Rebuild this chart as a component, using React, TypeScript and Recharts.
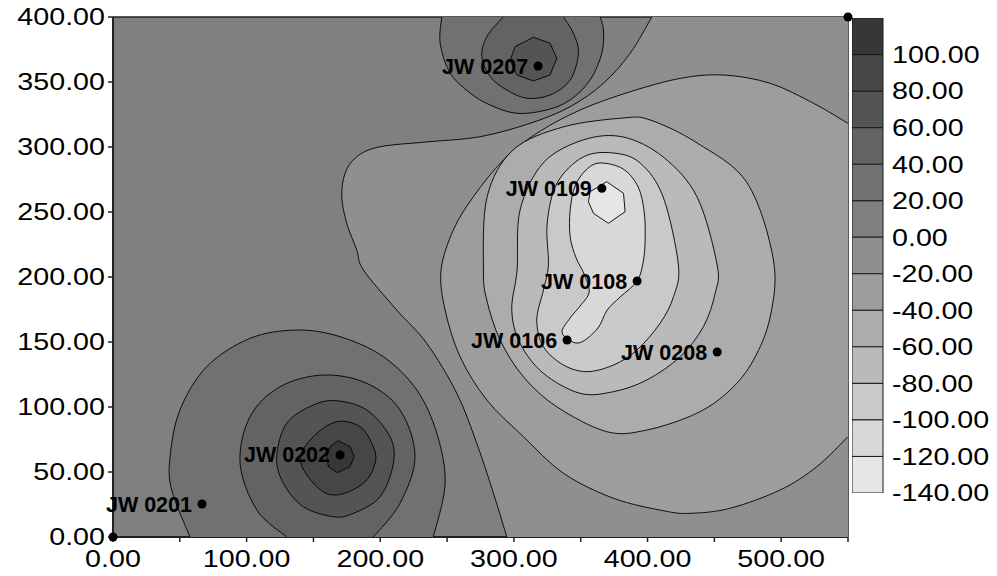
import React from 'react';
import { ComposedChart, BarChart, Bar, Scatter, XAxis, YAxis, CartesianGrid } from 'recharts';

type Pt = { x: number; y: number };

// Contour levels of the colour scale (each box covers [level, level + 20]), top box first
const levels = [100, 80, 60, 40, 20, 0, -20, -40, -60, -80, -100, -120, -140];
const levelGrays = ['#373737', '#464646', '#545454', '#636363', '#717171', '#808080', '#8f8f8f',
  '#9d9d9d', '#acacac', '#bababa', '#c9c9c9', '#d8d8d8', '#e6e6e6'];
const levelStep = 20;
const bandColor = (level: number) => levelGrays[levels.indexOf(level)];

// Colour-scale boxes stacked away from zero: upward for positive levels, downward for negative
const scaleOrder = [0, 20, 40, 60, 80, 100, -20, -40, -60, -80, -100, -120, -140];
const scaleRow: Record<string, number | string> = { name: 'scale' };
scaleOrder.forEach((lv) => {
  scaleRow[`b${lv}`] = lv >= 0 ? levelStep : -levelStep;
});
const scaleData = [scaleRow];

// Axis ticks
const xTicks = [0, 50, 100, 150, 200, 250, 300, 350, 400, 450, 500, 550];
const xLabelled = [0, 100, 200, 300, 400, 500];
const yTicks = [0, 50, 100, 150, 200, 250, 300, 350, 400];

// Mound around JW 0207 (north edge)
const north20: Pt[] = [
  { x: 246.0, y: 400 }, { x: 244.8, y: 379.8 }, { x: 252.2, y: 356.9 }, { x: 267.2, y: 341.5 },
  { x: 282.2, y: 332.3 }, { x: 302.2, y: 325.9 }, { x: 324.6, y: 328.5 }, { x: 342.1, y: 336.2 },
  { x: 357.0, y: 351.5 }, { x: 365.8, y: 372.1 }, { x: 367.0, y: 390.0 }, { x: 364.5, y: 400 },
];
const north40: Pt[] = [
  { x: 291.9, y: 400 }, { x: 279.7, y: 384.8 }, { x: 276.0, y: 369.5 }, { x: 282.2, y: 354.1 },
  { x: 294.7, y: 343.8 }, { x: 309.7, y: 337.5 }, { x: 327.1, y: 340.0 }, { x: 342.1, y: 351.5 },
  { x: 348.3, y: 372.1 }, { x: 344.5, y: 387.5 }, { x: 337.1, y: 400 },
];
const north60: Pt[] = [
  { x: 300.9, y: 377.2 }, { x: 314.6, y: 384.4 }, { x: 327.1, y: 379.8 }, { x: 332.1, y: 368.2 },
  { x: 327.1, y: 355.4 }, { x: 314.6, y: 350.8 }, { x: 302.2, y: 355.4 }, { x: 297.2, y: 366.9 },
];

// Depression around JW 0109 / JW 0108 / JW 0106
const pit0: Pt[] = [
  { x: 403.2, y: 400 }, { x: 387.0, y: 372.1 }, { x: 367.0, y: 349.0 }, { x: 342.1, y: 331.0 },
  { x: 312.1, y: 318.2 }, { x: 274.7, y: 307.9 }, { x: 237.3, y: 304.1 }, { x: 199.9, y: 300.2 },
  { x: 182.4, y: 292.5 }, { x: 173.7, y: 279.8 }, { x: 171.2, y: 261.8 }, { x: 174.9, y: 241.3 },
  { x: 182.4, y: 220.8 }, { x: 187.4, y: 205.4 }, { x: 212.3, y: 174.6 }, { x: 234.8, y: 149.0 },
  { x: 257.3, y: 110.5 }, { x: 272.2, y: 72.1 }, { x: 284.7, y: 33.6 }, { x: 294.7, y: 0 },
];
const pit0Corners: Pt[] = [{ x: 550, y: 0 }, { x: 550, y: 400 }];
const pit20: Pt[] = [
  { x: 550, y: 318.2 }, { x: 524.2, y: 333.6 }, { x: 491.8, y: 349.0 }, { x: 456.8, y: 355.4 },
  { x: 424.4, y: 352.8 }, { x: 387.0, y: 342.5 }, { x: 349.6, y: 328.5 }, { x: 317.1, y: 310.5 },
  { x: 292.1, y: 290.0 }, { x: 269.7, y: 261.8 }, { x: 254.7, y: 236.2 }, { x: 245.5, y: 205.4 },
  { x: 248.5, y: 174.6 }, { x: 259.7, y: 138.7 }, { x: 279.7, y: 105.4 }, { x: 307.1, y: 77.2 },
  { x: 337.1, y: 49.0 }, { x: 374.5, y: 29.8 }, { x: 411.9, y: 20.2 }, { x: 431.9, y: 18.2 },
  { x: 461.8, y: 22.1 }, { x: 499.3, y: 36.2 }, { x: 526.7, y: 54.1 }, { x: 550, y: 77.2 },
];
const pit40: Pt[] = [
  { x: 277.2, y: 205.4 }, { x: 279.9, y: 261.5 }, { x: 299.4, y: 297.7 }, { x: 336.8, y: 315.4 },
  { x: 381.7, y: 322.3 }, { x: 401.9, y: 320.8 }, { x: 437.1, y: 303.1 }, { x: 474.6, y: 272.3 },
  { x: 494.2, y: 213.1 }, { x: 491.8, y: 169.5 }, { x: 479.3, y: 136.2 }, { x: 461.8, y: 113.1 },
  { x: 436.9, y: 95.2 }, { x: 399.5, y: 82.3 }, { x: 369.5, y: 81.0 }, { x: 332.1, y: 100.2 },
  { x: 307.1, y: 123.3 }, { x: 289.7, y: 151.5 }, { x: 279.7, y: 182.3 },
];
const pit60: Pt[] = [
  { x: 302.4, y: 205.4 }, { x: 304.6, y: 251.5 }, { x: 321.9, y: 287.7 }, { x: 351.8, y: 305.4 },
  { x: 381.7, y: 307.7 }, { x: 411.7, y: 292.3 }, { x: 437.1, y: 261.5 }, { x: 452.1, y: 209.2 },
  { x: 450.6, y: 187.5 }, { x: 441.8, y: 161.8 }, { x: 424.4, y: 138.7 }, { x: 399.5, y: 120.8 },
  { x: 374.5, y: 111.8 }, { x: 349.6, y: 110.5 }, { x: 322.1, y: 125.9 }, { x: 304.6, y: 149.0 },
  { x: 298.4, y: 174.6 },
];
const pit80: Pt[] = [
  { x: 325.8, y: 209.2 }, { x: 324.9, y: 241.5 }, { x: 332.3, y: 272.3 }, { x: 351.8, y: 292.3 },
  { x: 374.3, y: 295.4 }, { x: 394.5, y: 287.7 }, { x: 411.7, y: 261.5 }, { x: 423.1, y: 209.2 },
  { x: 419.4, y: 184.8 }, { x: 409.4, y: 164.4 }, { x: 392.0, y: 143.8 }, { x: 374.5, y: 132.3 },
  { x: 354.6, y: 127.2 }, { x: 337.1, y: 132.3 }, { x: 322.1, y: 146.4 }, { x: 317.1, y: 166.9 },
  { x: 322.1, y: 190.0 },
];
const pit100: Pt[] = [
  { x: 364.5, y: 287.7 }, { x: 381.7, y: 283.1 }, { x: 393.0, y: 269.2 }, { x: 397.5, y: 250.0 },
  { x: 398.2, y: 228.5 }, { x: 396.7, y: 211.5 }, { x: 392.2, y: 196.9 }, { x: 379.5, y: 184.6 },
  { x: 369.8, y: 174.6 }, { x: 362.3, y: 160.0 }, { x: 348.1, y: 149.2 }, { x: 336.1, y: 156.9 },
  { x: 342.1, y: 168.5 }, { x: 349.6, y: 177.7 }, { x: 356.3, y: 188.5 }, { x: 352.5, y: 202.3 },
  { x: 346.6, y: 214.6 }, { x: 342.1, y: 230.8 }, { x: 342.1, y: 251.5 }, { x: 345.8, y: 270.0 },
  { x: 354.0, y: 282.3 },
];
const pit120: Pt[] = [
  { x: 357.0, y: 265.6 }, { x: 369.5, y: 273.3 }, { x: 382.0, y: 264.4 }, { x: 383.2, y: 250.2 },
  { x: 370.7, y: 241.3 }, { x: 359.5, y: 249.0 }, { x: 355.8, y: 257.9 },
];

// Mound around JW 0202 (south edge)
const south20: Pt[] = [
  { x: 57.6, y: 0 }, { x: 43.9, y: 36.2 }, { x: 42.7, y: 61.8 }, { x: 50.1, y: 97.7 },
  { x: 70.1, y: 131.0 }, { x: 102.5, y: 152.8 }, { x: 137.5, y: 159.2 }, { x: 169.9, y: 154.1 },
  { x: 202.3, y: 138.7 }, { x: 227.3, y: 113.1 }, { x: 242.3, y: 79.8 }, { x: 248.5, y: 41.3 },
  { x: 239.7, y: 0 },
];
const south40: Pt[] = [
  { x: 130.0, y: 0 }, { x: 107.6, y: 20.8 }, { x: 95.1, y: 56.7 }, { x: 102.5, y: 92.5 },
  { x: 125.0, y: 115.6 }, { x: 157.4, y: 124.6 }, { x: 189.9, y: 118.2 }, { x: 214.8, y: 97.7 },
  { x: 226.0, y: 61.8 }, { x: 214.8, y: 25.9 }, { x: 194.8, y: 0 },
];
const south60: Pt[] = [
  { x: 122.5, y: 61.8 }, { x: 130.0, y: 87.5 }, { x: 149.9, y: 101.5 }, { x: 167.4, y: 104.8 },
  { x: 189.9, y: 97.7 }, { x: 207.3, y: 77.2 }, { x: 209.8, y: 56.7 }, { x: 199.9, y: 31.0 },
  { x: 179.9, y: 18.2 }, { x: 164.9, y: 15.6 }, { x: 142.4, y: 23.3 }, { x: 127.5, y: 41.3 },
];
const south80: Pt[] = [
  { x: 140.0, y: 59.2 }, { x: 149.9, y: 77.2 }, { x: 167.4, y: 88.7 }, { x: 184.9, y: 84.8 },
  { x: 194.8, y: 69.5 }, { x: 196.1, y: 56.7 }, { x: 187.4, y: 41.3 }, { x: 167.4, y: 32.3 },
  { x: 152.5, y: 38.7 },
];
const south100: Pt[] = [
  { x: 160.0, y: 61.8 }, { x: 162.4, y: 69.5 }, { x: 168.6, y: 74.1 }, { x: 177.4, y: 69.5 },
  { x: 180.4, y: 61.8 }, { x: 177.4, y: 54.1 }, { x: 167.9, y: 49.5 }, { x: 161.2, y: 54.1 },
];

// Observation wells
const wells = [
  { name: 'JW 0207', x: 318.1, y: 362.3 },
  { name: 'JW 0109', x: 365.8, y: 268.2 },
  { name: 'JW 0108', x: 392.2, y: 196.9 },
  { name: 'JW 0106', x: 339.8, y: 151.5 },
  { name: 'JW 0208', x: 452.1, y: 142.3 },
  { name: 'JW 0202', x: 169.9, y: 63.1 },
  { name: 'JW 0201', x: 66.6, y: 25.4 },
];
const gridCorners = [
  { name: '', x: 0, y: 0 },
  { name: '', x: 550, y: 400 },
];

type Contour = {
  id: string;
  level: number;
  above: boolean; // region holds values above the level (mound) or below it (depression)
  line: Pt[];
  corners?: Pt[];
  closed: boolean;
  smooth: boolean;
};

// Drawing order: outer regions first so inner ones paint over them
const contours: Contour[] = [
  { id: 'n20', level: 20, above: true, line: north20, closed: false, smooth: true },
  { id: 'n40', level: 40, above: true, line: north40, closed: false, smooth: true },
  { id: 'n60', level: 60, above: true, line: north60, closed: true, smooth: false },
  { id: 'p0', level: 0, above: false, line: pit0, corners: pit0Corners, closed: false, smooth: true },
  { id: 'p20', level: -20, above: false, line: pit20, closed: false, smooth: true },
  { id: 'p40', level: -40, above: false, line: pit40, closed: true, smooth: true },
  { id: 'p60', level: -60, above: false, line: pit60, closed: true, smooth: true },
  { id: 'p80', level: -80, above: false, line: pit80, closed: true, smooth: true },
  { id: 'p100', level: -100, above: false, line: pit100, closed: true, smooth: true },
  { id: 'p120', level: -120, above: false, line: pit120, closed: true, smooth: false },
  { id: 's20', level: 20, above: true, line: south20, closed: false, smooth: true },
  { id: 's40', level: 40, above: true, line: south40, closed: false, smooth: true },
  { id: 's60', level: 60, above: true, line: south60, closed: true, smooth: true },
  { id: 's80', level: 80, above: true, line: south80, closed: true, smooth: true },
  { id: 's100', level: 100, above: true, line: south100, closed: true, smooth: false },
];

const FONT = "'Liberation Sans', Arial, Helvetica, sans-serif";

// Catmull-Rom spline through pixel points, written as cubic Béziers
function splinePath(pts: Pt[], closed: boolean, smooth: boolean): string {
  const n = pts.length;
  if (n < 2) return '';
  let d = `M${pts[0].x},${pts[0].y}`;
  if (!smooth) {
    for (let i = 1; i < n; i++) d += ` L${pts[i].x},${pts[i].y}`;
    return closed ? d + ' Z' : d;
  }
  const get = (i: number) => (closed ? pts[(i + n) % n] : pts[Math.max(0, Math.min(n - 1, i))]);
  const segs = closed ? n : n - 1;
  for (let i = 0; i < segs; i++) {
    const p0 = get(i - 1);
    const p1 = get(i);
    const p2 = get(i + 1);
    const p3 = get(i + 2);
    const c1x = p1.x + (p2.x - p0.x) / 6;
    const c1y = p1.y + (p2.y - p0.y) / 6;
    const c2x = p2.x - (p3.x - p1.x) / 6;
    const c2y = p2.y - (p3.y - p1.y) / 6;
    d += ` C${c1x},${c1y} ${c2x},${c2y} ${p2.x},${p2.y}`;
  }
  return closed ? d + ' Z' : d;
}

const makeContourRenderer = (c: Contour) => (props: any) => {
  const pts: Pt[] = props.points || [];
  const n = c.line.length;
  const linePts = pts.slice(0, n);
  const edgePts = pts.slice(n);
  const stroke = splinePath(linePts, c.closed, c.smooth);
  const fillD = c.closed ? stroke : stroke + edgePts.map((p) => ` L${p.x},${p.y}`).join('') + ' Z';
  const fill = bandColor(c.above ? c.level : c.level - 20);
  return (
    <g>
      <path d={fillD} fill={fill} stroke="none" />
      <path d={stroke} fill="none" stroke="#000" strokeWidth={0.9} />
    </g>
  );
};

const NoPoint = () => <g />;

const WellMarker = (props: any) => {
  const { cx, cy, payload } = props;
  return (
    <g>
      <circle cx={cx} cy={cy} r={4.5} fill="#000" />
      {payload && payload.name ? (
        <text x={cx - 10} y={cy} dy="0.35em" textAnchor="end" fontFamily={FONT} fontWeight="bold"
          fontSize={21.5} fill="#000">
          {payload.name}
        </text>
      ) : null}
    </g>
  );
};

const WideTick = (props: any) => {
  const { x, y, payload, textAnchor, verticalAnchor, shown } = props;
  const v = Number(payload && payload.value);
  if (shown && shown.indexOf(v) < 0) return <g />;
  const dy = verticalAnchor === 'start' ? '0.71em' : verticalAnchor === 'end' ? '0' : '0.355em';
  return (
    <g transform={`translate(${x},${y})`}>
      <text transform="scale(1.22,1)" x={0} y={0} dy={dy} textAnchor={textAnchor} fontFamily={FONT}
        fontSize={23.5} fill="#000">
        {v.toFixed(2)}
      </text>
    </g>
  );
};

const Blank = () => <g />;

export default function App() {
  return (
    <div style={{ position: 'absolute', left: 0, top: 0, width: 997, height: 576, background: '#fff' }}>
      <div style={{ position: 'absolute', left: 0, top: 0 }}>
        <ComposedChart width={870} height={576} margin={{ top: 13, right: 17, bottom: 9, left: 8 }}>
          <CartesianGrid fill={bandColor(0)} horizontal={false} vertical={false} />
          {contours.map((c) => (
            <Scatter
              key={c.id}
              name={c.id}
              data={[...c.line, ...(c.corners || [])]}
              line={makeContourRenderer(c)}
              shape={NoPoint}
              legendType="none"
              isAnimationActive={false}
            />
          ))}
          <XAxis
            type="number"
            dataKey="x"
            domain={[0, 550]}
            ticks={xTicks}
            interval={0}
            height={30}
            tickSize={5}
            tickMargin={8}
            axisLine={{ stroke: '#222', strokeWidth: 2 }}
            tickLine={{ stroke: '#222', strokeWidth: 1.5 }}
            tick={(p: any) => <WideTick {...p} shown={xLabelled} />}
          />
          <XAxis
            xAxisId="top"
            orientation="top"
            type="number"
            domain={[0, 550]}
            ticks={xTicks}
            interval={0}
            height={4}
            tickSize={4}
            axisLine={{ stroke: '#222', strokeWidth: 1.5 }}
            tickLine={{ stroke: '#222', strokeWidth: 1.2 }}
            tick={Blank}
          />
          <YAxis
            type="number"
            dataKey="y"
            domain={[0, 400]}
            ticks={yTicks}
            interval={0}
            width={105}
            tickSize={5}
            tickMargin={3}
            axisLine={{ stroke: '#222', strokeWidth: 2 }}
            tickLine={{ stroke: '#222', strokeWidth: 1.5 }}
            tick={(p: any) => <WideTick {...p} />}
          />
          <YAxis
            yAxisId="right"
            orientation="right"
            type="number"
            domain={[0, 400]}
            ticks={yTicks}
            interval={0}
            width={5}
            tickSize={5}
            axisLine={{ stroke: '#222', strokeWidth: 1.5 }}
            tickLine={{ stroke: '#222', strokeWidth: 1.2 }}
            tick={Blank}
          />
          <Scatter
            name="wells"
            data={[...wells, ...gridCorners]}
            shape={WellMarker}
            legendType="none"
            isAnimationActive={false}
          />
        </ComposedChart>
      </div>
      <div style={{ position: 'absolute', left: 852, top: 0 }}>
        <BarChart
          width={145}
          height={576}
          data={scaleData}
          margin={{ top: 18, right: 0, bottom: 83, left: 0 }}
          barCategoryGap={0}
          stackOffset="sign"
        >
          <XAxis type="category" dataKey="name" hide />
          <YAxis
            type="number"
            orientation="right"
            domain={[-140, 120]}
            allowDataOverflow
            ticks={levels}
            interval={0}
            width={114}
            axisLine={false}
            tickLine={false}
            tickSize={0}
            tickMargin={9}
            tick={(p: any) => <WideTick {...p} />}
          />
          {scaleOrder.map((lv) => (
            <Bar
              key={lv}
              dataKey={`b${lv}`}
              stackId="scale"
              fill={bandColor(lv)}
              stroke="#1a1a1a"
              strokeWidth={1}
              isAnimationActive={false}
            />
          ))}
        </BarChart>
      </div>
    </div>
  );
}
